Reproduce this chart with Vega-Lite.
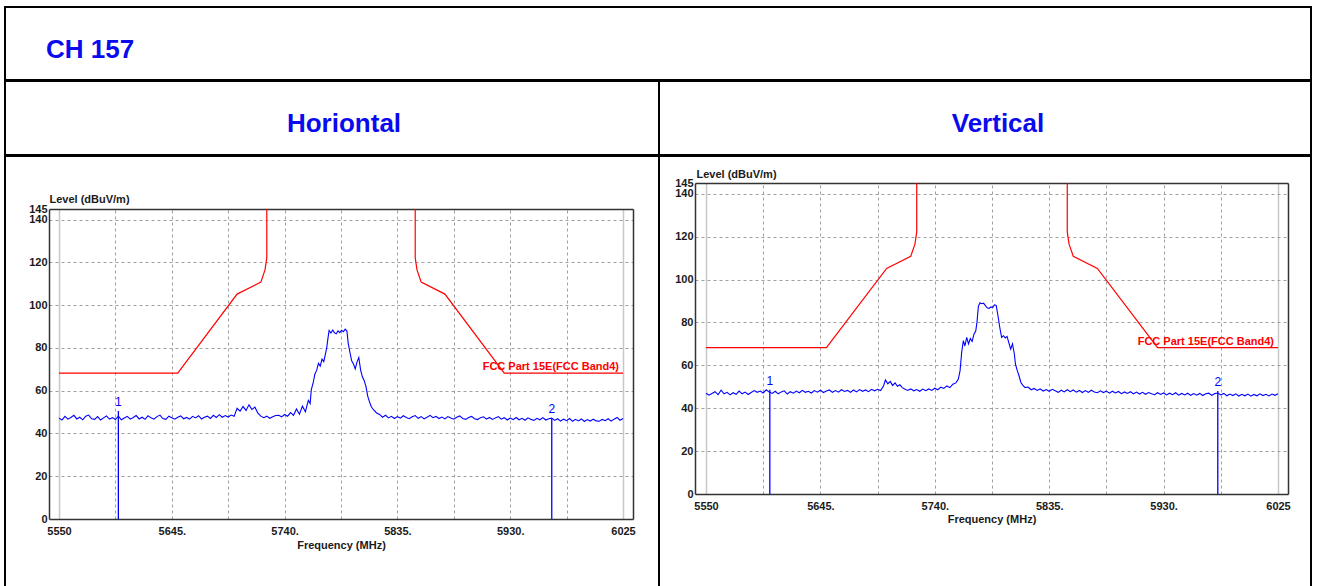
{
"$schema": "https://vega.github.io/schema/vega-lite/v6.json",
"background": "white",
"padding": {"left": 4, "top": 6, "right": 0, "bottom": 0},
"config": {
  "font": "Liberation Sans",
  "view": {"stroke": "black", "strokeWidth": 2},
  "concat": {"spacing": 0},
  "axis": {"ticks": false, "labelFontSize": 11, "labelFontWeight": "bold", "labelColor": "#1a1a1a", "titleFontSize": 11, "titleFontWeight": "bold", "titleColor": "#1a1a1a", "domainColor": "#333333", "domainWidth": 1.5, "gridColor": "#a0a0a0", "gridDash": [3, 3], "gridWidth": 1, "labelOverlap": false, "labelBound": false, "labelFlush": false, "minExtent": 0, "maxExtent": 500},
  "title": {"font": "Liberation Sans", "fontSize": 26, "fontWeight": "bold", "color": "#0a0aee"}
},
"datasets": {
  "limit": [
    {"seg": "a", "f": 5550, "v": 68.2}, {"seg": "a", "f": 5650, "v": 68.2}, {"seg": "a", "f": 5700, "v": 105.2}, {"seg": "a", "f": 5720, "v": 110.8}, {"seg": "a", "f": 5723.5, "v": 116.5}, {"seg": "a", "f": 5725, "v": 122.2}, {"seg": "a", "f": 5725, "v": 145},
    {"seg": "b", "f": 5850, "v": 145}, {"seg": "b", "f": 5850, "v": 122.2}, {"seg": "b", "f": 5851.5, "v": 116.5}, {"seg": "b", "f": 5855, "v": 110.8}, {"seg": "b", "f": 5875, "v": 105.2}, {"seg": "b", "f": 5925, "v": 68.2}, {"seg": "b", "f": 6025, "v": 68.2}
  ],
  "mh": [{"m": "1", "f": 5600, "v": 50.5}, {"m": "2", "f": 5965, "v": 47.2}],
  "mv": [{"m": "1", "f": 5603, "v": 48.6}, {"m": "2", "f": 5975, "v": 48.0}],
  "h": [
    {"f":5550,"v":47.2},{"f":5552.5,"v":46.3},{"f":5555,"v":48.0},{"f":5557.5,"v":46.7},{"f":5560,"v":47.5},{"f":5562.5,"v":48.5},{"f":5565,"v":46.8},{"f":5567.5,"v":47.6},{"f":5570,"v":46.4},{"f":5572.5,"v":48.1},
    {"f":5575,"v":48.6},{"f":5577.5,"v":46.9},{"f":5580,"v":46.6},{"f":5582.5,"v":47.9},{"f":5585,"v":46.3},{"f":5587.5,"v":47.3},{"f":5590,"v":48.2},{"f":5592.5,"v":46.7},{"f":5595,"v":47.4},{"f":5597.5,"v":46.5},
    {"f":5600,"v":48.1},{"f":5602.5,"v":46.4},{"f":5605,"v":47.2},{"f":5607.5,"v":48.0},{"f":5610,"v":46.7},{"f":5612.5,"v":47.5},{"f":5615,"v":48.4},{"f":5617.5,"v":46.8},{"f":5620,"v":47.6},{"f":5622.5,"v":46.6},
    {"f":5625,"v":48.3},{"f":5627.5,"v":47.3},{"f":5630,"v":46.7},{"f":5632.5,"v":47.9},{"f":5635,"v":48.6},{"f":5637.5,"v":47.0},{"f":5640,"v":46.6},{"f":5642.5,"v":48.1},{"f":5645,"v":47.4},{"f":5647.5,"v":46.7},
    {"f":5650,"v":47.6},{"f":5652.5,"v":48.2},{"f":5655,"v":46.9},{"f":5657.5,"v":47.5},{"f":5660,"v":46.7},{"f":5662.5,"v":48.0},{"f":5665,"v":47.3},{"f":5667.5,"v":48.3},{"f":5670,"v":46.8},{"f":5672.5,"v":47.6},
    {"f":5675,"v":48.1},{"f":5677.5,"v":47.0},{"f":5680,"v":48.5},{"f":5682.5,"v":47.5},{"f":5685,"v":48.8},{"f":5687.5,"v":47.6},{"f":5690,"v":48.4},{"f":5692.5,"v":47.7},{"f":5695,"v":48.6},{"f":5697.5,"v":48.0},
    {"f":5700,"v":51.8},{"f":5702.5,"v":50.5},{"f":5705,"v":52.6},{"f":5707.5,"v":50.8},{"f":5710,"v":53.4},{"f":5712.5,"v":51.2},{"f":5715,"v":52.3},{"f":5717.5,"v":49.5},{"f":5720,"v":48.1},
    {"f":5722.5,"v":47.4},{"f":5725,"v":48.1},{"f":5727.5,"v":47.1},{"f":5730,"v":47.8},{"f":5732.5,"v":48.4},{"f":5735,"v":48.5},{"f":5737.5,"v":47.8},{"f":5740,"v":48.9},{"f":5742.5,"v":48.1},{"f":5745,"v":49.8},
    {"f":5747.5,"v":48.5},{"f":5750,"v":51.5},{"f":5752.5,"v":49.0},{"f":5755,"v":52.8},{"f":5757.5,"v":50.2},{"f":5760,"v":55.5},{"f":5761.5,"v":54.0},{"f":5762.5,"v":60.5},{"f":5764,"v":63.5},{"f":5765.5,"v":67.8},
    {"f":5767,"v":69.5},{"f":5768.5,"v":72.8},{"f":5770,"v":71.5},{"f":5771.5,"v":74.8},{"f":5773,"v":73.6},{"f":5774.5,"v":77.5},{"f":5775.5,"v":80.2},{"f":5776.5,"v":84.5},{"f":5777.5,"v":88.2},{"f":5779,"v":87.0},
    {"f":5780.5,"v":88.4},{"f":5782,"v":87.1},{"f":5783.5,"v":86.6},{"f":5785,"v":88.0},{"f":5786.5,"v":87.2},{"f":5788,"v":88.3},{"f":5789.5,"v":87.6},{"f":5791,"v":88.8},{"f":5792.5,"v":87.9},{"f":5793.5,"v":82.5},
    {"f":5795,"v":78.0},{"f":5796.5,"v":74.0},{"f":5798,"v":72.5},{"f":5799.5,"v":70.2},{"f":5801,"v":73.5},{"f":5802.5,"v":75.5},{"f":5804,"v":69.8},{"f":5805.5,"v":66.5},{"f":5807,"v":64.8},{"f":5808.5,"v":62.0},
    {"f":5810,"v":57.5},{"f":5811.5,"v":54.8},{"f":5813,"v":52.5},{"f":5815,"v":51.0},{"f":5817.5,"v":49.6},{"f":5820,"v":48.9},{"f":5822.5,"v":47.6},
    {"f":5825,"v":48.5},{"f":5827.5,"v":47.3},{"f":5830,"v":48.0},{"f":5832.5,"v":47.0},{"f":5835,"v":47.9},{"f":5837.5,"v":47.2},{"f":5840,"v":48.3},{"f":5842.5,"v":47.5},{"f":5845,"v":46.9},{"f":5847.5,"v":47.8},
    {"f":5850,"v":48.4},{"f":5852.5,"v":47.1},{"f":5855,"v":47.9},{"f":5857.5,"v":46.8},{"f":5860,"v":47.6},{"f":5862.5,"v":48.5},{"f":5865,"v":47.4},{"f":5867.5,"v":48.0},{"f":5870,"v":47.0},{"f":5872.5,"v":47.7},
    {"f":5875,"v":46.8},{"f":5877.5,"v":47.9},{"f":5880,"v":47.2},{"f":5882.5,"v":46.7},{"f":5885,"v":47.6},{"f":5887.5,"v":48.2},{"f":5890,"v":47.0},{"f":5892.5,"v":46.6},{"f":5895,"v":47.5},{"f":5897.5,"v":48.0},
    {"f":5900,"v":46.9},{"f":5902.5,"v":46.5},{"f":5905,"v":47.4},{"f":5907.5,"v":47.8},{"f":5910,"v":46.7},{"f":5912.5,"v":47.5},{"f":5915,"v":46.6},{"f":5917.5,"v":47.3},{"f":5920,"v":47.9},{"f":5922.5,"v":46.7},
    {"f":5925,"v":47.4},{"f":5927.5,"v":46.3},{"f":5930,"v":47.2},{"f":5932.5,"v":46.5},{"f":5935,"v":47.5},{"f":5937.5,"v":46.4},{"f":5940,"v":47.1},{"f":5942.5,"v":46.2},{"f":5945,"v":47.3},{"f":5947.5,"v":46.6},
    {"f":5950,"v":46.1},{"f":5952.5,"v":47.1},{"f":5955,"v":46.4},{"f":5957.5,"v":47.4},{"f":5960,"v":46.3},{"f":5962.5,"v":46.9},{"f":5965,"v":47.2},{"f":5967.5,"v":46.1},{"f":5970,"v":46.9},{"f":5972.5,"v":45.8},
    {"f":5975,"v":46.7},{"f":5977.5,"v":46.0},{"f":5980,"v":47.0},{"f":5982.5,"v":45.7},{"f":5985,"v":46.6},{"f":5987.5,"v":45.9},{"f":5990,"v":46.8},{"f":5992.5,"v":45.6},{"f":5995,"v":46.5},{"f":5997.5,"v":45.8},
    {"f":6000,"v":46.7},{"f":6002.5,"v":45.9},{"f":6005,"v":45.7},{"f":6007.5,"v":46.6},{"f":6010,"v":46.0},{"f":6012.5,"v":46.9},{"f":6015,"v":45.8},{"f":6017.5,"v":46.7},{"f":6020,"v":47.5},{"f":6022.5,"v":46.2},{"f":6025,"v":47.0}
  ],
  "v": [
    {"f":5550,"v":47.0},{"f":5552.5,"v":46.1},{"f":5555,"v":46.9},{"f":5557.5,"v":47.7},{"f":5560,"v":46.3},{"f":5562.5,"v":48.4},{"f":5565,"v":46.7},{"f":5567.5,"v":47.4},{"f":5570,"v":46.2},{"f":5572.5,"v":47.2},
    {"f":5575,"v":46.5},{"f":5577.5,"v":48.0},{"f":5580,"v":46.7},{"f":5582.5,"v":47.5},{"f":5585,"v":46.4},{"f":5587.5,"v":47.3},{"f":5590,"v":48.2},{"f":5592.5,"v":47.4},{"f":5595,"v":48.0},{"f":5597.5,"v":47.1},
    {"f":5600,"v":48.6},{"f":5602.5,"v":47.5},{"f":5605,"v":46.9},{"f":5607.5,"v":47.9},{"f":5610,"v":46.7},{"f":5612.5,"v":47.6},{"f":5615,"v":48.1},{"f":5617.5,"v":46.6},{"f":5620,"v":47.7},{"f":5622.5,"v":47.0},
    {"f":5625,"v":48.0},{"f":5627.5,"v":47.2},{"f":5630,"v":48.3},{"f":5632.5,"v":47.4},{"f":5635,"v":47.9},{"f":5637.5,"v":47.1},{"f":5640,"v":48.2},{"f":5642.5,"v":47.5},{"f":5645,"v":48.4},{"f":5647.5,"v":47.3},
    {"f":5650,"v":48.0},{"f":5652.5,"v":48.5},{"f":5655,"v":47.4},{"f":5657.5,"v":48.2},{"f":5660,"v":47.5},{"f":5662.5,"v":48.6},{"f":5665,"v":47.8},{"f":5667.5,"v":48.3},{"f":5670,"v":47.4},{"f":5672.5,"v":48.5},
    {"f":5675,"v":47.6},{"f":5677.5,"v":48.7},{"f":5680,"v":47.9},{"f":5682.5,"v":48.5},{"f":5685,"v":47.7},{"f":5687.5,"v":48.8},{"f":5690,"v":48.1},{"f":5692.5,"v":48.8},{"f":5695,"v":48.2},{"f":5697.5,"v":50.5},
    {"f":5699,"v":53.2},{"f":5701,"v":51.4},{"f":5703,"v":52.5},{"f":5705,"v":50.6},{"f":5707,"v":51.8},{"f":5709,"v":50.2},{"f":5711,"v":50.9},{"f":5713,"v":49.6},{"f":5715,"v":49.0},{"f":5717.5,"v":48.3},
    {"f":5720,"v":49.0},{"f":5722.5,"v":48.1},{"f":5725,"v":48.7},{"f":5727.5,"v":47.9},{"f":5730,"v":48.9},{"f":5732.5,"v":48.2},{"f":5735,"v":49.0},{"f":5737.5,"v":48.3},{"f":5740,"v":49.3},{"f":5742.5,"v":48.6},
    {"f":5745,"v":49.8},{"f":5747.5,"v":49.2},{"f":5750,"v":50.4},{"f":5752.5,"v":49.6},{"f":5755,"v":51.2},{"f":5757.5,"v":51.8},{"f":5759.5,"v":53.5},{"f":5761,"v":57.5},{"f":5762.3,"v":66.0},{"f":5763.7,"v":71.5},
    {"f":5765,"v":69.0},{"f":5766.5,"v":73.0},{"f":5768,"v":70.0},{"f":5769.5,"v":72.5},{"f":5771,"v":71.2},{"f":5772.5,"v":74.5},{"f":5774,"v":76.0},{"f":5775,"v":80.0},{"f":5776.2,"v":87.5},{"f":5777.5,"v":89.2},
    {"f":5779,"v":88.7},{"f":5780.5,"v":89.0},{"f":5782,"v":87.8},{"f":5783.5,"v":86.8},{"f":5785,"v":86.5},{"f":5786.5,"v":87.2},{"f":5788,"v":86.9},{"f":5789.5,"v":88.2},{"f":5791,"v":87.9},{"f":5792.5,"v":83.0},
    {"f":5794,"v":77.5},{"f":5795.5,"v":73.0},{"f":5797,"v":73.8},{"f":5798.5,"v":72.8},{"f":5800,"v":73.5},{"f":5801.5,"v":70.5},{"f":5803,"v":67.5},{"f":5804.5,"v":70.0},{"f":5806,"v":65.5},{"f":5807,"v":60.5},
    {"f":5808.5,"v":57.5},{"f":5810,"v":55.0},{"f":5811.5,"v":52.0},{"f":5813,"v":50.8},{"f":5815,"v":49.6},{"f":5817.5,"v":49.9},{"f":5820,"v":48.6},{"f":5822.5,"v":49.2},{"f":5825,"v":48.3},{"f":5827.5,"v":49.0},
    {"f":5830,"v":48.0},{"f":5832.5,"v":48.7},{"f":5835,"v":47.9},{"f":5837.5,"v":48.8},{"f":5840,"v":48.1},{"f":5842.5,"v":47.4},{"f":5845,"v":48.4},{"f":5847.5,"v":47.6},{"f":5850,"v":48.6},{"f":5852.5,"v":47.7},
    {"f":5855,"v":48.5},{"f":5857.5,"v":47.5},{"f":5860,"v":48.3},{"f":5862.5,"v":47.3},{"f":5865,"v":48.2},{"f":5867.5,"v":47.4},{"f":5870,"v":48.4},{"f":5872.5,"v":47.6},{"f":5875,"v":47.2},{"f":5877.5,"v":48.1},
    {"f":5880,"v":47.3},{"f":5882.5,"v":48.0},{"f":5885,"v":47.0},{"f":5887.5,"v":47.9},{"f":5890,"v":47.1},{"f":5892.5,"v":47.8},{"f":5895,"v":46.8},{"f":5897.5,"v":47.6},{"f":5900,"v":46.9},{"f":5902.5,"v":47.7},
    {"f":5905,"v":46.7},{"f":5907.5,"v":47.5},{"f":5910,"v":46.6},{"f":5912.5,"v":47.4},{"f":5915,"v":46.5},{"f":5917.5,"v":47.3},{"f":5920,"v":46.7},{"f":5922.5,"v":46.3},{"f":5925,"v":47.2},{"f":5927.5,"v":46.4},
    {"f":5930,"v":47.1},{"f":5932.5,"v":46.2},{"f":5935,"v":47.0},{"f":5937.5,"v":46.3},{"f":5940,"v":47.2},{"f":5942.5,"v":46.1},{"f":5945,"v":46.9},{"f":5947.5,"v":46.2},{"f":5950,"v":47.0},{"f":5952.5,"v":46.0},
    {"f":5955,"v":46.8},{"f":5957.5,"v":46.1},{"f":5960,"v":46.9},{"f":5962.5,"v":45.9},{"f":5965,"v":46.7},{"f":5967.5,"v":47.0},{"f":5970,"v":46.0},{"f":5972.5,"v":46.8},{"f":5975,"v":47.1},{"f":5977.5,"v":46.2},
    {"f":5980,"v":46.9},{"f":5982.5,"v":45.8},{"f":5985,"v":46.6},{"f":5987.5,"v":45.9},{"f":5990,"v":46.7},{"f":5992.5,"v":45.7},{"f":5995,"v":46.5},{"f":5997.5,"v":45.8},{"f":6000,"v":46.6},{"f":6002.5,"v":45.6},
    {"f":6005,"v":46.4},{"f":6007.5,"v":45.8},{"f":6010,"v":46.7},{"f":6012.5,"v":45.9},{"f":6015,"v":46.5},{"f":6017.5,"v":45.7},{"f":6020,"v":46.6},{"f":6022.5,"v":46.0},{"f":6025,"v":46.7}
  ]
},
"spacing": -2,
"vconcat": [
  {
    "width": 1306, "height": 73,
    "data": {"values": [{"label": "CH 157"}]},
    "mark": {"type": "rect", "opacity": 0},
    "encoding": {
      "x": {"field": "label", "type": "nominal", "axis": null},
      "y": {"field": "label", "type": "nominal", "axis": null}
    },
    "title": {"text": "CH 157", "anchor": "start", "frame": "group", "offset": -56, "dx": 41}
  },
  {
    "spacing": 0,
    "bounds": "flush",
    "hconcat": [
      {
        "width": 654, "height": 74,
        "data": {"values": [{"label": "Horiontal"}]},
        "mark": {"type": "rect", "opacity": 0},
        "encoding": {
          "x": {"field": "label", "type": "nominal", "axis": null},
          "y": {"field": "label", "type": "nominal", "axis": null}
        },
        "title": {"text": "Horiontal", "anchor": "middle", "frame": "group", "offset": -56, "dx": 12}
      },
      {
        "width": 652, "height": 74,
        "data": {"values": [{"label": "Vertical"}]},
        "mark": {"type": "rect", "opacity": 0},
        "encoding": {
          "x": {"field": "label", "type": "nominal", "axis": null},
          "y": {"field": "label", "type": "nominal", "axis": null}
        },
        "title": {"text": "Vertical", "anchor": "middle", "frame": "group", "offset": -56, "dx": 13}
      }
    ]
  },
  {
    "spacing": 0,
    "bounds": "flush",
    "hconcat": [
      {
        "width": 654, "height": 440,
        "resolve": {"axis": {"x": "independent", "y": "independent"}},
        "layer": [
          {
            "data": {"name": "limit"},
            "mark": {"type": "line", "color": "#ff0000", "strokeWidth": 1.2},
            "encoding": {
              "x": {"field": "f", "type": "quantitative", "scale": {"domain": [5541.58, 6033.42], "range": [44, 628], "nice": false, "zero": false},
                "axis": {"orient": "bottom", "offset": -77, "values": [5550, 5645, 5740, 5835, 5930, 6025], "format": "d", "labelExpr": "datum.value == 5550 || datum.value == 6025 ? datum.label : datum.label + '.'", "grid": false, "title": "Frequency (MHz)", "labelPadding": 6, "titlePadding": 3}},
              "y": {"field": "v", "type": "quantitative", "scale": {"domain": [0, 145], "range": [363, 53], "nice": false, "zero": false},
                "axis": {"orient": "left", "offset": -44, "values": [0, 20, 40, 60, 80, 100, 120, 140, 145], "grid": false, "title": "Level (dBuV/m)", "titleAngle": 0, "titleAlign": "left", "titleBaseline": "alphabetic", "titleX": 0, "titleY": 46, "labelPadding": 2}},
              "detail": {"field": "seg"}
            }
          },
          {
            "data": {"name": "h"},
            "mark": {"type": "line", "color": "#0000ff", "strokeWidth": 1.1},
            "encoding": {
              "x": {"field": "f", "type": "quantitative", "axis": {"orient": "top", "offset": -53, "values": [5597.5, 5645, 5692.5, 5740, 5787.5, 5835, 5882.5, 5930, 5977.5], "grid": true, "labels": false, "domain": true, "title": null}},
              "y": {"field": "v", "type": "quantitative", "axis": {"orient": "left", "offset": -44, "values": [20, 40, 60, 80, 100, 120, 140], "grid": true, "labels": false, "domain": false, "title": null}}
            }
          },
          {
            "data": {"name": "mh"},
            "mark": {"type": "rule", "color": "#0000ff", "strokeWidth": 1.3},
            "encoding": {
              "x": {"field": "f", "type": "quantitative", "axis": {"orient": "top", "values": [5550, 6025], "grid": true, "gridDash": [], "gridColor": "#c8c8c8", "gridWidth": 1.5, "labels": false, "domain": false, "title": null}},
              "y": {"field": "v", "type": "quantitative", "axis": {"orient": "right", "offset": -26, "labels": false, "grid": false, "domain": true, "title": null}},
              "y2": {"datum": 0}
            }
          },
          {
            "data": {"name": "mh"},
            "mark": {"type": "text", "color": "#0000ff", "fontSize": 12, "baseline": "bottom", "dy": -2},
            "encoding": {
              "x": {"field": "f", "type": "quantitative", "axis": null},
              "y": {"field": "v", "type": "quantitative", "axis": null},
              "text": {"field": "m"}
            }
          },
          {
            "data": {"name": "limit"},
            "transform": [{"filter": "datum.f == 6025"}],
            "mark": {"type": "text", "color": "#ff0000", "fontSize": 11, "fontWeight": "bold", "align": "right", "baseline": "alphabetic", "dx": -4, "dy": -3},
            "encoding": {
              "x": {"field": "f", "type": "quantitative", "axis": null},
              "y": {"field": "v", "type": "quantitative", "axis": null},
              "text": {"value": "FCC Part 15E(FCC Band4)"}
            }
          }
        ]
      },
      {
        "width": 652, "height": 440,
        "resolve": {"axis": {"x": "independent", "y": "independent"}},
        "layer": [
          {
            "data": {"name": "limit"},
            "mark": {"type": "line", "color": "#ff0000", "strokeWidth": 1.2},
            "encoding": {
              "x": {"field": "f", "type": "quantitative", "scale": {"domain": [5540.87, 6033.3], "range": [36, 629], "nice": false, "zero": false},
                "axis": {"orient": "bottom", "offset": -102, "values": [5550, 5645, 5740, 5835, 5930, 6025], "format": "d", "labelExpr": "datum.value == 5550 || datum.value == 6025 ? datum.label : datum.label + '.'", "grid": false, "title": "Frequency (MHz)", "labelPadding": 6, "titlePadding": 2}},
              "y": {"field": "v", "type": "quantitative", "scale": {"domain": [0, 145], "range": [338, 27], "nice": false, "zero": false},
                "axis": {"orient": "left", "offset": -36, "values": [0, 20, 40, 60, 80, 100, 120, 140, 145], "grid": false, "title": "Level (dBuV/m)", "titleAngle": 0, "titleAlign": "left", "titleBaseline": "alphabetic", "titleX": 1, "titleY": 21, "labelPadding": 2}},
              "detail": {"field": "seg"}
            }
          },
          {
            "data": {"name": "v"},
            "mark": {"type": "line", "color": "#0000ff", "strokeWidth": 1.1},
            "encoding": {
              "x": {"field": "f", "type": "quantitative", "axis": {"orient": "top", "offset": -27, "values": [5597.5, 5645, 5692.5, 5740, 5787.5, 5835, 5882.5, 5930, 5977.5], "grid": true, "labels": false, "domain": true, "title": null}},
              "y": {"field": "v", "type": "quantitative", "axis": {"orient": "left", "offset": -36, "values": [20, 40, 60, 80, 100, 120, 140], "grid": true, "labels": false, "domain": false, "title": null}}
            }
          },
          {
            "data": {"name": "mv"},
            "mark": {"type": "rule", "color": "#0000ff", "strokeWidth": 1.3},
            "encoding": {
              "x": {"field": "f", "type": "quantitative", "axis": {"orient": "top", "values": [5550, 6025], "grid": true, "gridDash": [], "gridColor": "#c8c8c8", "gridWidth": 1.5, "labels": false, "domain": false, "title": null}},
              "y": {"field": "v", "type": "quantitative", "axis": {"orient": "right", "offset": -23, "labels": false, "grid": false, "domain": true, "title": null}},
              "y2": {"datum": 0}
            }
          },
          {
            "data": {"name": "mv"},
            "mark": {"type": "text", "color": "#0000ff", "fontSize": 12, "baseline": "bottom", "dy": -2},
            "encoding": {
              "x": {"field": "f", "type": "quantitative", "axis": null},
              "y": {"field": "v", "type": "quantitative", "axis": null},
              "text": {"field": "m"}
            }
          },
          {
            "data": {"name": "limit"},
            "transform": [{"filter": "datum.f == 6025"}],
            "mark": {"type": "text", "color": "#ff0000", "fontSize": 11, "fontWeight": "bold", "align": "right", "baseline": "alphabetic", "dx": -4, "dy": -3},
            "encoding": {
              "x": {"field": "f", "type": "quantitative", "axis": null},
              "y": {"field": "v", "type": "quantitative", "axis": null},
              "text": {"value": "FCC Part 15E(FCC Band4)"}
            }
          }
        ]
      }
    ]
  }
]
}
